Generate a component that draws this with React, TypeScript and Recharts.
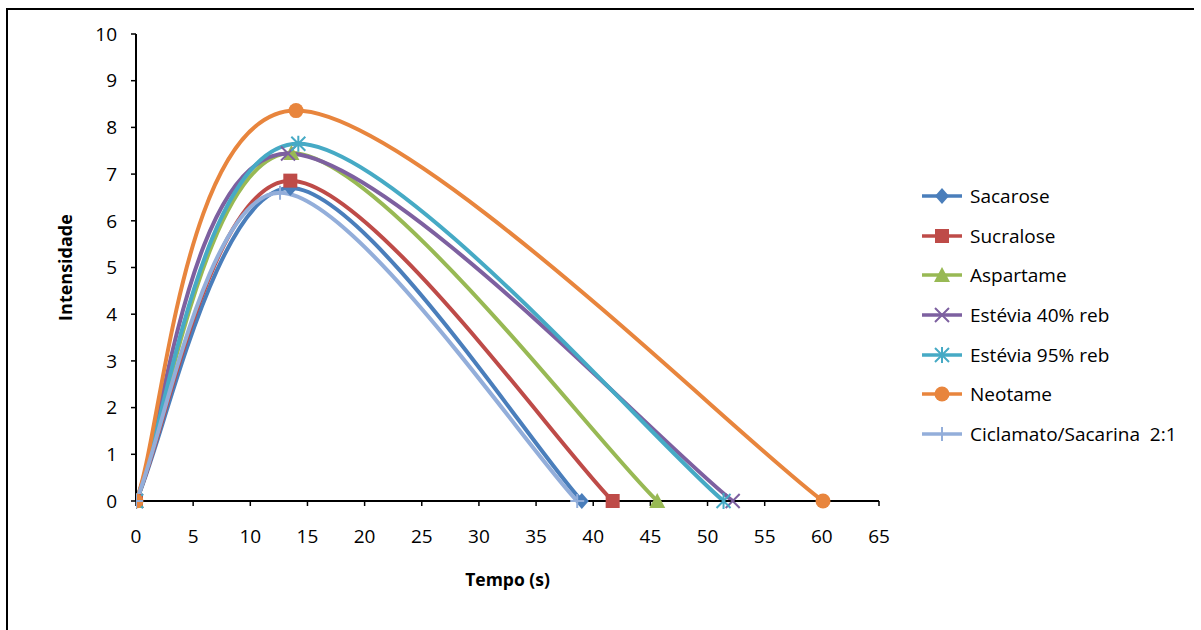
import { LineChart, Line, XAxis, YAxis } from 'recharts'

// tempo (s) e intensidade de cada adoçante: início, pico, fim
const sacaroseTempo = [0, 13.5, 39]
const sacaroseIntensidade = [0, 6.7, 0]
const sucraloseTempo = [0, 13.5, 41.7]
const sucraloseIntensidade = [0, 6.86, 0]
const aspartameTempo = [0, 13.6, 45.6]
const aspartameIntensidade = [0, 7.45, 0]
const estevia40Tempo = [0, 13.3, 52.2]
const estevia40Intensidade = [0, 7.44, 0]
const estevia95Tempo = [0, 14.2, 51.4]
const estevia95Intensidade = [0, 7.65, 0]
const neotameTempo = [0, 14, 60.1]
const neotameIntensidade = [0, 8.36, 0]
const ciclamatoTempo = [0, 12.6, 38.6]
const ciclamatoIntensidade = [0, 6.6, 0]

const xTicks = [0, 5, 10, 15, 20, 25, 30, 35, 40, 45, 50, 55, 60, 65]
const yTicks = [0, 1, 2, 3, 4, 5, 6, 7, 8, 9, 10]

const FONT = '"Open Sans", sans-serif'

type Marker = 'diamond' | 'square' | 'triangle' | 'x' | 'star' | 'circle' | 'plus'

const toPoints = (t: number[], v: number[]) => t.map((x, i) => ({ x, y: v[i] }))

const series = [
	{ name: 'Sacarose', color: '#4A7EBB', marker: 'diamond' as Marker, data: toPoints(sacaroseTempo, sacaroseIntensidade) },
	{ name: 'Sucralose', color: '#BE4B48', marker: 'square' as Marker, data: toPoints(sucraloseTempo, sucraloseIntensidade) },
	{ name: 'Aspartame', color: '#98B954', marker: 'triangle' as Marker, data: toPoints(aspartameTempo, aspartameIntensidade) },
	{ name: 'Estévia 40% reb', color: '#7D60A0', marker: 'x' as Marker, data: toPoints(estevia40Tempo, estevia40Intensidade) },
	{ name: 'Estévia 95% reb', color: '#46AAC5', marker: 'star' as Marker, data: toPoints(estevia95Tempo, estevia95Intensidade) },
	{ name: 'Neotame', color: '#E8853D', marker: 'circle' as Marker, data: toPoints(neotameTempo, neotameIntensidade) },
	{ name: 'Ciclamato/Sacarina  2:1', color: '#93AEDA', marker: 'plus' as Marker, data: toPoints(ciclamatoTempo, ciclamatoIntensidade) },
]

// suavização ao estilo do Excel (bezier com tangentes de Catmull-Rom)
const excelSmooth = (context: any) => {
	let pts: number[][] = []
	return {
		areaStart() {},
		areaEnd() {},
		lineStart() {
			pts = []
		},
		lineEnd() {
			if (!pts.length) return
			context.moveTo(pts[0][0], pts[0][1])
			for (let i = 0; i < pts.length - 1; i++) {
				const p0 = pts[i - 1] ?? pts[i]
				const p1 = pts[i]
				const p2 = pts[i + 1]
				const p3 = pts[i + 2] ?? p2
				context.bezierCurveTo(
					p1[0] + (p2[0] - p0[0]) / 6,
					p1[1] + (p2[1] - p0[1]) / 6,
					p2[0] - (p3[0] - p1[0]) / 6,
					p2[1] - (p3[1] - p1[1]) / 6,
					p2[0],
					p2[1],
				)
			}
		},
		point(x: number, y: number) {
			pts.push([+x, +y])
		},
	}
}

const markerShape = (marker: Marker, color: string, cx: number, cy: number, key?: string) => {
	const s = 7
	switch (marker) {
		case 'diamond':
			return <path key={key} d={`M${cx},${cy - s - 1}L${cx + s},${cy}L${cx},${cy + s + 1}L${cx - s},${cy}Z`} fill={color} />
		case 'square':
			return <rect key={key} x={cx - s} y={cy - s} width={s * 2} height={s * 2} fill={color} />
		case 'triangle':
			return <path key={key} d={`M${cx},${cy - s - 1}L${cx + s + 1},${cy + s}L${cx - s - 1},${cy + s}Z`} fill={color} />
		case 'circle':
			return <circle key={key} cx={cx} cy={cy} r={s + 0.5} fill={color} />
		case 'x':
			return (
				<path key={key} d={`M${cx - s},${cy - s}L${cx + s},${cy + s}M${cx - s},${cy + s}L${cx + s},${cy - s}`} stroke={color} strokeWidth={2} />
			)
		case 'star':
			return (
				<path
					key={key}
					d={`M${cx - s},${cy - s}L${cx + s},${cy + s}M${cx - s},${cy + s}L${cx + s},${cy - s}M${cx},${cy - s - 1}L${cx},${cy + s + 1}`}
					stroke={color}
					strokeWidth={2}
				/>
			)
		case 'plus':
		default:
			return <path key={key} d={`M${cx - s},${cy}L${cx + s},${cy}M${cx},${cy - s}L${cx},${cy + s}`} stroke={color} strokeWidth={2} />
	}
}

const ChartLegend = () => (
	<div style={{ position: 'absolute', left: 920, top: 176, fontFamily: FONT, fontSize: 19, color: '#000' }}>
		{series.map((s) => (
			<div key={s.name} style={{ display: 'flex', alignItems: 'center', height: 39.7, whiteSpace: 'pre' }}>
				<svg width={46} height={20} style={{ marginRight: 4 }}>
					<line x1={2} y1={10} x2={42} y2={10} stroke={s.color} strokeWidth={3.5} />
					{markerShape(s.marker, s.color, 22, 10)}
				</svg>
				<span>{s.name}</span>
			</div>
		))}
	</div>
)

export default function App() {
	return (
		<div style={{ position: 'absolute', left: 0, top: 0, width: 1201, height: 630, overflow: 'hidden', background: '#fff' }}>
			<div style={{ position: 'absolute', left: 6, top: 8, width: 1186, height: 640, borderTop: '2.5px solid #000', borderLeft: '2.5px solid #000' }} />
			<LineChart
				width={1201}
				height={630}
				margin={{ top: 34, right: 322, left: 56, bottom: 39 }}
				style={{ position: 'absolute', left: 0, top: 0 }}
			>
				<XAxis
					type='number'
					dataKey='x'
					domain={[0, 65]}
					ticks={xTicks}
					allowDataOverflow
					height={90}
					tickSize={5}
					tickMargin={24}
					axisLine={{ stroke: '#000', strokeWidth: 2 }}
					tickLine={{ stroke: '#000', strokeWidth: 1.5 }}
					tick={{ fill: '#000', fontFamily: FONT, fontSize: 19 }}
					label={{ value: 'Tempo (s)', position: 'center', dy: 34, fill: '#000', fontFamily: FONT, fontSize: 17.5, fontWeight: 700 }}
				/>
				<YAxis
					type='number'
					dataKey='y'
					domain={[0, 10]}
					ticks={yTicks}
					width={80}
					tickSize={5}
					tickMargin={14}
					axisLine={{ stroke: '#000', strokeWidth: 2 }}
					tickLine={{ stroke: '#000', strokeWidth: 1.5 }}
					tick={{ fill: '#000', fontFamily: FONT, fontSize: 19 }}
					label={{ value: 'Intensidade', angle: -90, position: 'center', dx: -30, fill: '#000', fontFamily: FONT, fontSize: 18, fontWeight: 700 }}
				/>
				{series.map((s) => (
					<Line
						key={s.name}
						data={s.data}
						dataKey='y'
						name={s.name}
						type={excelSmooth as any}
						stroke={s.color}
						strokeWidth={4}
						isAnimationActive={false}
						dot={(p: any) => markerShape(s.marker, s.color, p.cx, p.cy, `${s.name}-${p.index}`)}
						activeDot={false}
					/>
				))}
			</LineChart>
			<ChartLegend />
		</div>
	)
}
